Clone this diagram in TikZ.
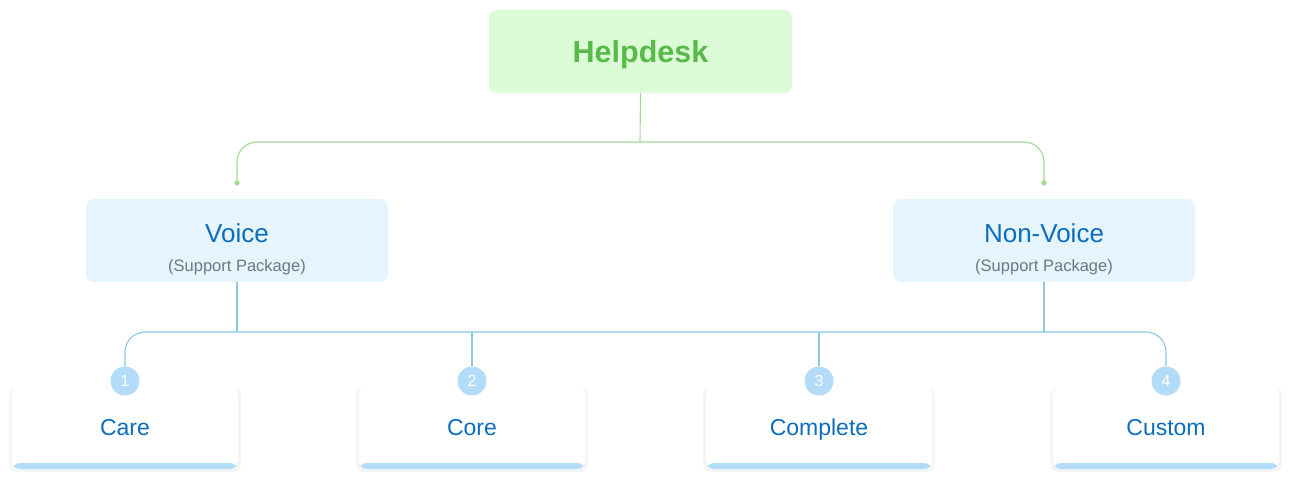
\documentclass[tikz,border=0pt]{standalone}
\usepackage{fontspec}
\setmainfont{Liberation Sans}
\usetikzlibrary{shadows}

\definecolor{hdfill}{HTML}{DCFCD8}
\definecolor{hdtext}{HTML}{58BA48}
\definecolor{hdline}{HTML}{A2DA95}
\definecolor{pkfill}{HTML}{E5F4FD}
\definecolor{pktext}{HTML}{0A6EBD}
\definecolor{pksub}{HTML}{707782}
\definecolor{pkline}{HTML}{8CC6E4}
\definecolor{numfill}{HTML}{B3DCF9}

\tikzset{
  headbox/.style={rounded corners=8pt, fill=hdfill, minimum width=303pt, minimum height=83pt,
    text=hdtext, font=\fontsize{30.5}{36}\selectfont\bfseries, text height=21.8pt, text depth=0pt},
  pkgbox/.style={rounded corners=8pt, fill=pkfill, minimum width=302pt, minimum height=83pt,
    align=center, text=pktext, font=\fontsize{16.5}{29}\selectfont},
  planbox/.style={rounded corners=8pt, fill=white, minimum width=226pt, minimum height=83pt,
    text=pktext, font=\fontsize{23}{28}\selectfont, text height=16.5pt, text depth=0pt,
    drop shadow={shadow xshift=0pt, shadow yshift=-2pt, shadow scale=1.025, opacity=0.04, fill=black},
    path picture={\fill[numfill] ([yshift=6pt]path picture bounding box.south west)
      rectangle (path picture bounding box.south east);}},
  numdot/.style={circle, fill=numfill, minimum size=29pt, inner sep=0pt,
    text=white, font=\fontsize{16}{18}\selectfont},
  greenlink/.style={draw=hdline, line width=1.1pt},
  bluelink/.style={draw=pkline, line width=1.1pt},
}
\newcommand{\pkname}[1]{\rule{0pt}{36pt}{\fontsize{26}{30}\selectfont #1}\\{\color{pksub}(Support Package)}}

\begin{document}
\begin{tikzpicture}[x=1pt, y=-1pt]
\useasboundingbox (0,0) rectangle (1297,478);

% top level
\node[headbox] (helpdesk) at (640.5,51.5) {Helpdesk};

% packages
\node[pkgbox] (voice) at (237,240.5) {\pkname{Voice}};
\node[pkgbox] (nonvoice) at (1044,240.5) {\pkname{Non-Voice}};

\coordinate (hub) at (640,142);
\coordinate (vdot) at (237,183);
\coordinate (ndot) at (1044,183);
\draw[greenlink] (helpdesk.south) -- (hub);
\draw[greenlink, rounded corners=20pt] (vdot) -- (vdot |- hub) -- (ndot |- hub) -- (ndot);
\fill[hdline] (vdot) circle (2.6pt) (ndot) circle (2.6pt);

% plans
\node[planbox] (care) at (125,427.5) {Care};
\node[planbox] (core) at (472,427.5) {Core};
\node[planbox] (complete) at (819,427.5) {Complete};
\node[planbox] (custom) at (1166,427.5) {Custom};

\coordinate (bus) at (640,332);
\foreach \plan/\num in {care/1, core/2, complete/3, custom/4}
  \node[numdot] (n\num) at ([yshift=46.5pt]\plan.center) {\num};

\draw[bluelink, rounded corners=20pt] (n1.north) -- (n1 |- bus) -- (n4 |- bus) -- (n4.north);
\draw[bluelink] (n2.north) -- (n2 |- bus);
\draw[bluelink] (n3.north) -- (n3 |- bus);
\draw[bluelink] (voice.south) -- (voice.south |- bus);
\draw[bluelink] (nonvoice.south) -- (nonvoice.south |- bus);
\end{tikzpicture}
\end{document}
